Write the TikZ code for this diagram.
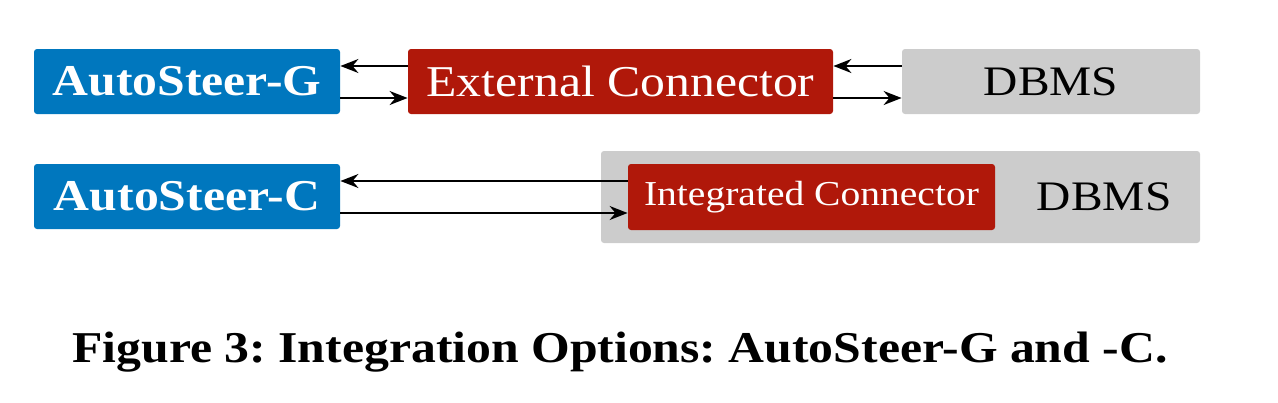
\documentclass[tikz,border=0pt]{standalone}
\usepackage{fontspec}
\setmainfont{Liberation Serif}[FakeStretch=1.13]
\usepackage{tikz}
\usetikzlibrary{arrows.meta, positioning}

\definecolor{asblue}{RGB}{0,119,190}
\definecolor{conred}{RGB}{176,24,10}
\definecolor{dbgray}{RGB}{204,204,204}

\frenchspacing

\begin{document}
\begin{tikzpicture}[
    x=0.5pt, y=-0.5pt,
    box/.style={
        rectangle,
        rounded corners=1.5pt,
        inner sep=0pt,
        align=center,
        minimum height=32.5pt
    },
    asbox/.style={
        box,
        fill=asblue,
        text=white,
        minimum width=153pt,
        font=\fontsize{22}{24}\selectfont\bfseries
    },
    conbox/.style={
        box,
        fill=conred,
        text=white
    },
    dbbox/.style={
        box,
        fill=dbgray,
        text=black,
        font=\fontsize{21}{24}\selectfont
    },
    arrow/.style={
        -{Stealth[length=9pt, width=7pt]},
        line width=1pt,
        draw=black
    }
]
    \useasboundingbox (0,0) rectangle (1278,402);

    % --- TOP ROW: AutoSteer-G with external connector ---
    \node[asbox] (asg) at (187, 81.5) {AutoSteer-G};
    \node[conbox, minimum width=212.5pt, font=\fontsize{22}{24}\selectfont] (ext) at (620.5, 81.5) {External Connector};
    \node[dbbox, minimum width=149pt] (db1) at (1051, 81.5) {DBMS};

    \draw[arrow] ([yshift=7.75pt]ext.west) -- ([yshift=7.75pt]asg.east);
    \draw[arrow] ([yshift=-8.25pt]asg.east) -- ([yshift=-8.25pt]ext.west);
    \draw[arrow] ([yshift=7.75pt]db1.west) -- ([yshift=7.75pt]ext.east);
    \draw[arrow] ([yshift=-8.25pt]ext.east) -- ([yshift=-8.25pt]db1.west);

    % --- BOTTOM ROW: AutoSteer-C with integrated connector ---
    \node[dbbox, minimum width=299.5pt, minimum height=46pt, text width=271pt, align=right] (db2) at (900.5, 197) {DBMS};
    \node[asbox] (asc) at (187, 196.5) {AutoSteer-C};
    \node[conbox, minimum width=183.5pt, minimum height=33pt, font=\fontsize{17.5}{19}\selectfont] (integ) at (811.5, 197) {Integrated Connector};

    \draw[arrow] ([yshift=8pt]integ.west) -- (asc.east |- 0,181);
    \draw[arrow] (asc.east |- 0,213) -- (integ.west |- 0,213);

    % caption
    \node[font=\fontsize{22}{24}\selectfont\bfseries] (caption) at (620, 352) {Figure 3: Integration Options: AutoSteer-G and -C.};
\end{tikzpicture}
\end{document}
